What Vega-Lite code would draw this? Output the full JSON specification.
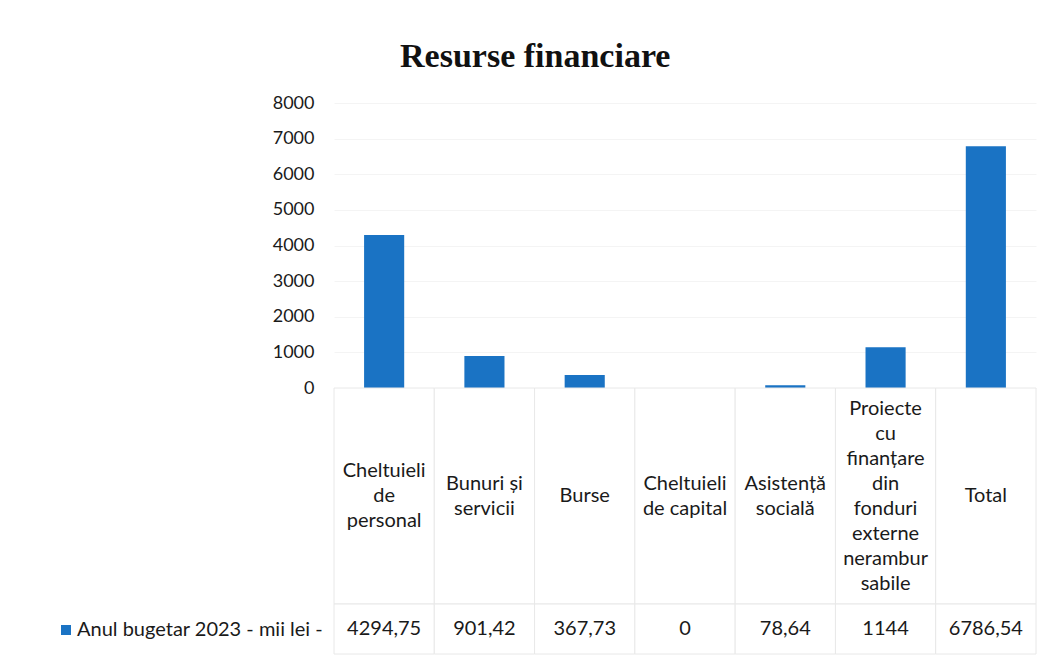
{
  "$schema": "https://vega.github.io/schema/vega-lite/v6.json",
  "padding": {"left": 56, "top": 40, "right": 10, "bottom": 0},
  "spacing": 0,
  "bounds": "flush",
  "title": {"text": "Resurse financiare", "font": "Liberation Serif", "fontSize": 34, "fontWeight": "bold", "color": "#111111", "anchor": "middle", "frame": "bounds", "offset": 20, "dx": -11},
  "config": {
    "view": {"stroke": null},
    "font": "Lato",
    "locale": {"number": {"decimal": ",", "thousands": "", "grouping": [3], "currency": ["", ""]}}
  },
  "data": {"values": [
    {"cat": "Cheltuieli de personal", "label": ["Cheltuieli", "de", "personal"], "value": 4294.75, "series": "Anul bugetar 2023  - mii lei -"},
    {"cat": "Bunuri și servicii", "label": ["Bunuri și", "servicii"], "value": 901.42, "series": "Anul bugetar 2023  - mii lei -"},
    {"cat": "Burse", "label": ["Burse"], "value": 367.73, "series": "Anul bugetar 2023  - mii lei -"},
    {"cat": "Cheltuieli de capital", "label": ["Cheltuieli", "de capital"], "value": 0, "series": "Anul bugetar 2023  - mii lei -"},
    {"cat": "Asistență socială", "label": ["Asistență", "socială"], "value": 78.64, "series": "Anul bugetar 2023  - mii lei -"},
    {"cat": "Proiecte cu finanțare din fonduri externe nerambursabile", "label": ["Proiecte", "cu", "finanțare", "din", "fonduri", "externe", "nerambur", "sabile"], "value": 1144, "series": "Anul bugetar 2023  - mii lei -"},
    {"cat": "Total", "label": ["Total"], "value": 6786.54, "series": "Anul bugetar 2023  - mii lei -"}
  ]},
  "vconcat": [
    {
      "width": 702,
      "height": 285,
      "mark": {"type": "bar", "width": {"band": 0.4}},
      "encoding": {
        "x": {"field": "cat", "type": "nominal", "sort": null, "axis": null, "scale": {"paddingInner": 0, "paddingOuter": 0}},
        "y": {"field": "value", "type": "quantitative", "scale": {"domain": [0, 8000]},
          "axis": {"values": [0, 1000, 2000, 3000, 4000, 5000, 6000, 7000, 8000], "format": "d", "title": null, "domain": false, "ticks": false, "labelPadding": 20, "labelFontSize": 18, "labelColor": "#1a1a1a", "gridColor": "#f4f4f4", "labelFont": "Lato"}},
        "color": {"field": "series", "type": "nominal", "scale": {"range": ["#1a73c4"]},
          "legend": {"orient": "none", "legendX": -278, "legendY": 517, "title": null, "symbolType": "square", "symbolSize": 100, "symbolStrokeWidth": 0, "labelFontSize": 20, "labelFont": "Lato", "labelColor": "#1a1a1a", "labelLimit": 400, "labelOffset": 1, "padding": 0}}
      }
    },
    {
      "width": 702,
      "height": 216,
      "layer": [
        {
          "mark": {"type": "rect", "fill": "white", "stroke": "#e8e8e8", "strokeWidth": 1},
          "encoding": {"x": {"field": "cat", "type": "nominal", "sort": null, "axis": null, "scale": {"paddingInner": 0, "paddingOuter": 0}}}
        },
        {
          "mark": {"type": "text", "fontSize": 20, "lineHeight": 25, "color": "#1a1a1a", "baseline": "middle", "font": "Lato", "dy": {"expr": "-(length(datum.label) - 1) * 12.5"}},
          "encoding": {
            "x": {"field": "cat", "type": "nominal", "sort": null, "axis": null, "scale": {"paddingInner": 0, "paddingOuter": 0}},
            "text": {"field": "label"}
          }
        }
      ]
    },
    {
      "width": 702,
      "height": 50,
      "layer": [
        {
          "mark": {"type": "rect", "fill": "white", "stroke": "#e8e8e8", "strokeWidth": 1},
          "encoding": {"x": {"field": "cat", "type": "nominal", "sort": null, "axis": null, "scale": {"paddingInner": 0, "paddingOuter": 0}}}
        },
        {
          "mark": {"type": "text", "fontSize": 20, "color": "#1a1a1a", "baseline": "middle", "font": "Lato"},
          "encoding": {
            "x": {"field": "cat", "type": "nominal", "sort": null, "axis": null, "scale": {"paddingInner": 0, "paddingOuter": 0}},
            "text": {"field": "value", "type": "quantitative", "format": "~f"}
          }
        }
      ]
    }
  ]
}
